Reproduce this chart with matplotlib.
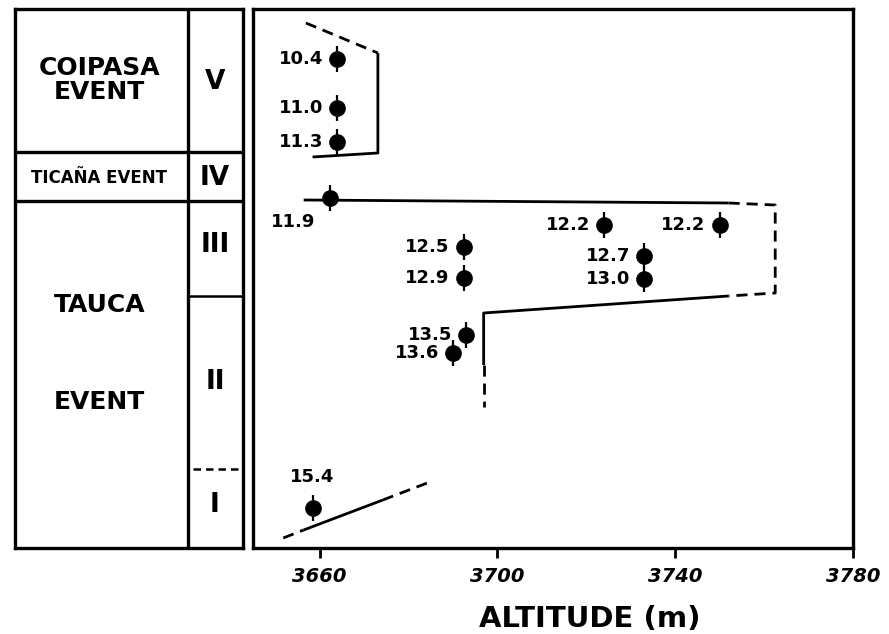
import matplotlib
matplotlib.use("Agg")
import matplotlib.pyplot as plt

plt.rcParams['font.family'] = ['DejaVu Sans']

### DATA ###
# radiocarbon ages (ka BP) of the dated samples
age_labels = ["10.4", "11.0", "11.3", "11.9", "12.2", "12.2", "12.5",
              "12.7", "12.9", "13.0", "13.5", "13.6", "15.4"]
altitude = [3664, 3664, 3664, 3662.4, 3724, 3750, 3692.4,
            3733, 3692.4, 3733, 3693, 3690, 3658.4]
# stratigraphic level (arbitrary units, bottom = 0)
level = [48.9, 44.0, 40.6, 35.0, 32.3, 32.3, 30.1,
         29.2, 27.0, 26.9, 21.3, 19.5, 4.0]
label_side = ["left", "left", "left", "below", "left", "left", "left",
              "left", "left", "left", "left", "left", "above"]

# lake level curve, split in solid / dashed parts
curve_solid = [
    ([3673.1, 3673.1, 3658.4], [49.5, 39.5, 39.1]),
    ([3656.4, 3752.0], [34.8, 34.5]),
    ([3752.0, 3696.9, 3696.9], [25.2, 23.5, 18.3]),
    ([3656.4, 3674.2], [1.8, 4.8]),
]
curve_dashed = [
    ([3656.9, 3673.1], [52.5, 49.5]),
    ([3752.0, 3762.5, 3762.5, 3752.0], [34.5, 34.3, 25.5, 25.2]),
    ([3696.9, 3696.9], [18.3, 14.1]),
    ([3651.8, 3656.4], [1.0, 1.8]),
    ([3674.2, 3684.2], [4.8, 6.5]),
]

# stratigraphic column
event_bounds = [39.6, 34.7]          # full-width lines
phase_bound_solid = 25.2             # III / II
phase_bound_dashed = 7.9             # II / I
event_names = [("COIPASA\nEVENT", 46.8, 18), ("TICAÑA EVENT", 37.0, 12),
               ("TAUCA", 24.3, 18), ("EVENT", 14.6, 18)]
phase_names = [("V", 46.6), ("IV", 37.0), ("III", 30.3), ("II", 16.6), ("I", 4.3)]

xticks = [3660, 3700, 3740, 3780]

### FIGURE ###
W, H = 889, 634
fig = plt.figure(figsize=(W / 100, H / 100), dpi=100)

ymax = 53.9
lw_box = 2.4
lw_curve = 2.0

# right panel: altitude vs stratigraphy
ax = fig.add_axes([253 / W, (H - 548) / H, 600 / W, 539 / H])
for xs, ys in curve_solid:
    ax.plot(xs, ys, c='k', lw=lw_curve, solid_capstyle='butt')
for xs, ys in curve_dashed:
    ax.plot(xs, ys, c='k', lw=lw_curve, ls=(0, (4, 2.5)))

ax.errorbar(altitude, level, yerr=1.3, fmt='o', c='k', ms=11,
            elinewidth=1.6, capsize=0, zorder=3)

for lab, x, y, side in zip(age_labels, altitude, level, label_side):
    if side == "left":
        ax.annotate(lab, (x, y), xytext=(-10, 0), textcoords='offset points',
                    ha='right', va='center', fontsize=13, fontweight='bold')
    elif side == "below":
        ax.annotate(lab, (x, y), xytext=(-27, -17), textcoords='offset points',
                    ha='center', va='center', fontsize=13, fontweight='bold')
    else:
        ax.annotate(lab, (x, y), xytext=(0, 22), textcoords='offset points',
                    ha='center', va='center', fontsize=13, fontweight='bold')

ax.set_xlim(3645, 3780)
ax.set_ylim(0, ymax)
ax.set_xticks(xticks)
ax.set_xticklabels([str(t) for t in xticks], fontsize=14,
                   fontweight='bold', fontstyle='italic')
ax.set_yticks([])
ax.tick_params(axis='x', direction='out', length=7, width=2, pad=7)
for sp in ax.spines.values():
    sp.set_linewidth(lw_box)
ax.set_xlabel("ALTITUDE (m)", fontsize=21, fontweight='bold')
ax.xaxis.set_label_coords((590 - 253) / 600, -0.105)

# left panel: stratigraphic column
axl = fig.add_axes([15 / W, (H - 548) / H, 228 / W, 539 / H])
axl.set_xlim(0, 1)
axl.set_ylim(0, ymax)
axl.set_xticks([])
axl.set_yticks([])
for sp in axl.spines.values():
    sp.set_linewidth(lw_box)

xdiv = 0.759
axl.plot([xdiv, xdiv], [0, ymax], c='k', lw=lw_box)
for yb in event_bounds:
    axl.plot([0, 1], [yb, yb], c='k', lw=lw_box)
axl.plot([xdiv, 1], [phase_bound_solid] * 2, c='k', lw=1.8)
axl.plot([xdiv + 0.02, 0.99], [phase_bound_dashed] * 2, c='k', lw=1.8,
         ls=(0, (3, 2)))

for name, y, fs in event_names:
    axl.text(0.37, y, name, ha='center', va='center', fontsize=fs,
             fontweight='bold', linespacing=1.0)
for name, y in phase_names:
    axl.text(0.877, y, name, ha='center', va='center', fontsize=19,
             fontweight='bold')

fig.savefig("out.png", dpi=100)
